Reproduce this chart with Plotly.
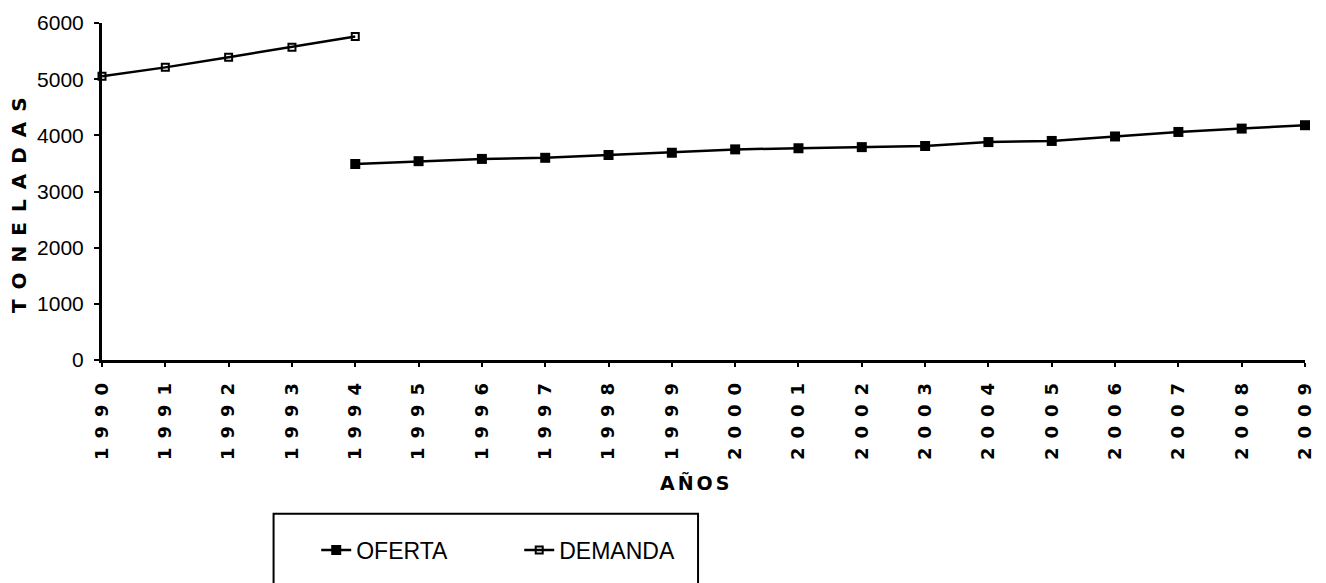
import plotly.graph_objects as go

# Data
years = list(range(1990, 2010))
year_labels = [str(y) for y in years]

demanda_years = [1990, 1991, 1992, 1993, 1994]
demanda = [5050, 5210, 5390, 5570, 5760]

oferta_years = list(range(1994, 2010))
oferta = [3490, 3540, 3580, 3600, 3650, 3690, 3750, 3770,
          3790, 3810, 3880, 3900, 3980, 4060, 4120, 4180]

y_ticks = [0, 1000, 2000, 3000, 4000, 5000, 6000]

# Layout geometry (pixels)
W, H = 1326, 583
L, R, T, B = 102, 11, 20, 221
PW, PH = W - L - R, H - T - B


def px_x(x):
    return (x - L) / PW


def px_y(y):
    return (H - B - y) / PH


fig = go.Figure()

fig.add_trace(go.Scatter(
    x=oferta_years, y=oferta, name="OFERTA", mode="lines+markers",
    line=dict(color="black", width=2.5),
    marker=dict(symbol="square", size=10, color="black"),
    cliponaxis=False,
))
fig.add_trace(go.Scatter(
    x=demanda_years, y=demanda, name="DEMANDA", mode="lines+markers",
    line=dict(color="black", width=2.5),
    marker=dict(symbol="square-open", size=7, color="black",
                line=dict(color="black", width=2)),
    cliponaxis=False,
))

fig.update_xaxes(
    range=[1990, 2009],
    tickvals=years,
    ticktext=[f'<span style="letter-spacing:9px">{t}</span>' for t in year_labels],
    tickangle=-90,
    tickfont=dict(family="DejaVu Sans", size=18, color="black", weight="bold"),
    showline=True, linecolor="black", linewidth=2.5,
    ticks="outside", ticklen=4, tickwidth=2, tickcolor="black",
    showgrid=False, zeroline=False,
)
fig.update_yaxes(
    range=[0, 6000],
    tickvals=y_ticks,
    ticktext=[str(v) for v in y_ticks],
    tickfont=dict(family="Liberation Sans", size=21, color="black"),
    ticklabelstandoff=6,
    showline=True, linecolor="black", linewidth=3,
    ticks="outside", ticklen=5, tickwidth=2, tickcolor="black",
    showgrid=False, zeroline=False,
)

fig.add_annotation(
    text='<span style="letter-spacing:10px">TONELADAS</span>',
    textangle=-90, xref="paper", yref="paper",
    x=px_x(19), y=px_y(200), xanchor="center", yanchor="middle",
    showarrow=False,
    font=dict(family="DejaVu Sans", size=20, color="black", weight="bold"),
)
fig.add_annotation(
    text='<span style="letter-spacing:3px">AÑOS</span>',
    xref="paper", yref="paper",
    x=px_x(701), y=px_y(486), xanchor="center", yanchor="middle",
    showarrow=False,
    font=dict(family="DejaVu Sans", size=19, color="black", weight="bold"),
)

# Legend frame
fig.add_shape(
    type="rect", xref="paper", yref="paper",
    x0=px_x(275), x1=px_x(703), y0=px_y(518), y1=px_y(610),
    line=dict(color="black", width=2), fillcolor="rgba(0,0,0,0)",
)

fig.update_layout(
    width=W, height=H,
    margin=dict(l=L, r=R, t=T, b=B),
    paper_bgcolor="white", plot_bgcolor="white",
    showlegend=True,
    legend=dict(
        orientation="h", x=px_x(318), y=px_y(533),
        xanchor="left", yanchor="top",
        font=dict(family="Liberation Sans", size=23, color="black"),
        entrywidth=158, entrywidthmode="pixels",
        bgcolor="rgba(0,0,0,0)",
    ),
)

fig.write_html("out.html")
